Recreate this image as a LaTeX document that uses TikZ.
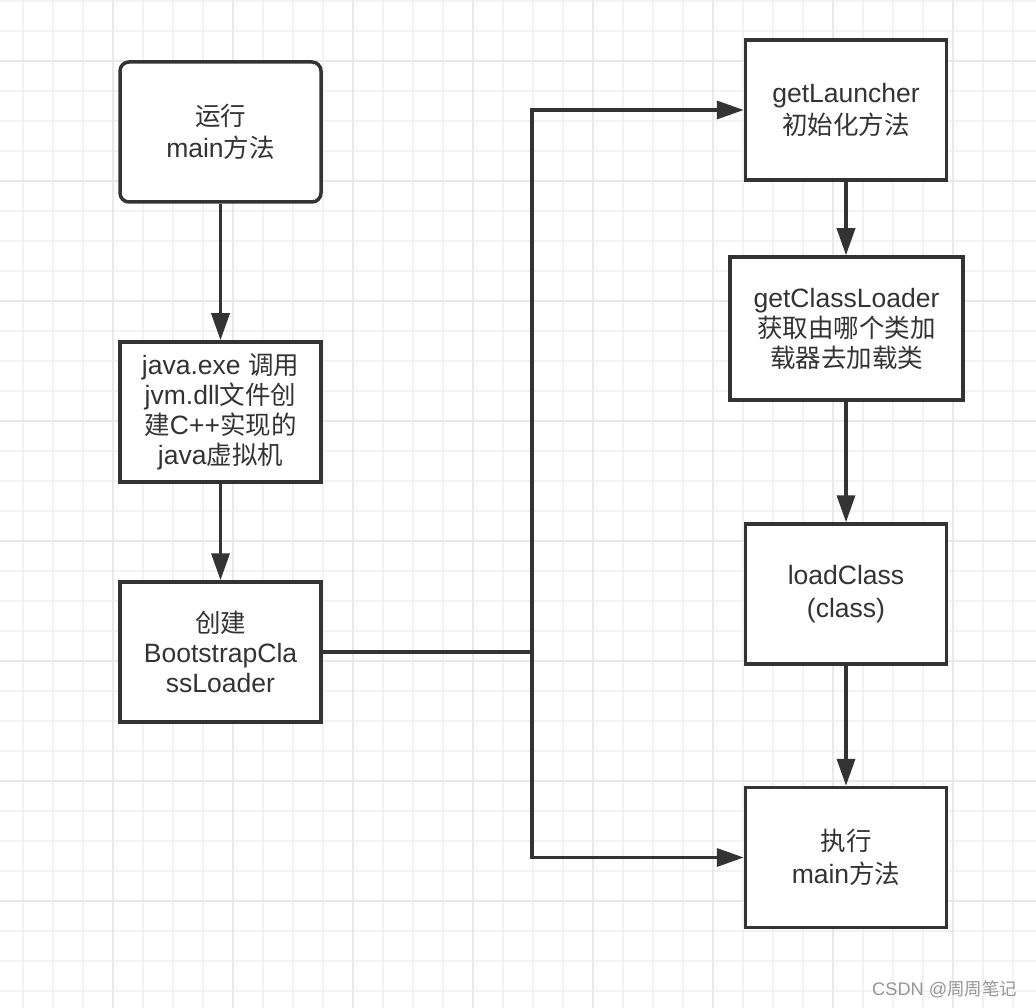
\documentclass[tikz,border=0pt]{standalone}
\usepackage{fontspec}
\setmainfont{Liberation Sans}[Scale=1.04]
\newfontfamily\cjk{Noto Sans CJK SC}
\usetikzlibrary{arrows.meta,positioning}
\definecolor{flowDark}{RGB}{51,51,51}
\definecolor{gridMinor}{RGB}{242,242,242}
\definecolor{gridMajor}{RGB}{232,232,232}
\definecolor{markGray}{RGB}{150,150,150}
\tikzset{
  flowbox/.style={draw=flowDark, line width=3.5pt, fill=white, minimum width=201pt,
    minimum height=140pt, inner sep=0pt, align=center, text=flowDark,
    font=\fontsize{25.5}{30}\selectfont},
  twoline/.style={font=\fontsize{25.5}{32.5}\selectfont},
  flowline/.style={draw=flowDark, line width=3.5pt},
  flowarrow/.style={flowline, -{Triangle[length=27pt,width=18pt]}},
}

\begin{document}
\begin{tikzpicture}[x=1pt,y=-1pt]
\useasboundingbox (0,0) rectangle (1036,1008);
\fill[white] (0,0) rectangle (1036,1008);

% background grid
\foreach \gx in {23,53,...,1033} \draw[gridMinor, line width=1.5pt] (\gx,0) -- (\gx,1008);
\foreach \gy in {1,31,...,1006} \draw[gridMinor, line width=1.5pt] (0,\gy) -- (1036,\gy);
\foreach \gx in {113,233,...,1033} \draw[gridMajor, line width=2pt] (\gx,0) -- (\gx,1008);
\foreach \gy in {61,181,...,1006} \draw[gridMajor, line width=2pt] (0,\gy) -- (1036,\gy);

% left column
\node[flowbox, twoline, rounded corners=9pt] (run) at (220.5,132) {{\cjk 运行}\\main{\cjk 方法}};
\node[flowbox] (jvm) at (220.5,412) {java.exe {\cjk 调用}\\jvm.dll{\cjk 文件创}\\{\cjk 建}C++{\cjk 实现的}\\java{\cjk 虚拟机}};
\node[flowbox] (boot) at (220.5,652) {{\cjk 创建}\\BootstrapCla\\ssLoader};

% right column
\node[flowbox, twoline] (launcher) at (846,110) {getLauncher\\{\cjk 初始化方法}};
\node[flowbox, minimum width=233pt, minimum height=143pt] (loader) at (846.5,328.5) {getClassLoader\\{\cjk 获取由哪个类加}\\{\cjk 载器去加载类}};
\node[flowbox, twoline] (load) at (846,594) {loadClass\\(class)};
\node[flowbox, twoline] (exec) at (846,857.5) {{\cjk 执行}\\main{\cjk 方法}};

\coordinate (split) at (532,652);

\draw[flowarrow] (run) -- (jvm);
\draw[flowarrow] (jvm) -- (boot);
\draw[flowline] (boot.east) -- (split);
\draw[flowarrow] (split) |- (launcher.west);
\draw[flowarrow] (split) |- (exec.west);
\draw[flowarrow] (launcher.south) -- (launcher.south |- loader.north);
\draw[flowarrow] (loader.south -| load.north) -- (load.north);
\draw[flowarrow] (load) -- (exec);

\node[text=markGray, anchor=east, font=\fontsize{17.5}{19}\selectfont] (mark) at (1021,989) {CSDN @{\cjk 周周笔记}};
\end{tikzpicture}
\end{document}
